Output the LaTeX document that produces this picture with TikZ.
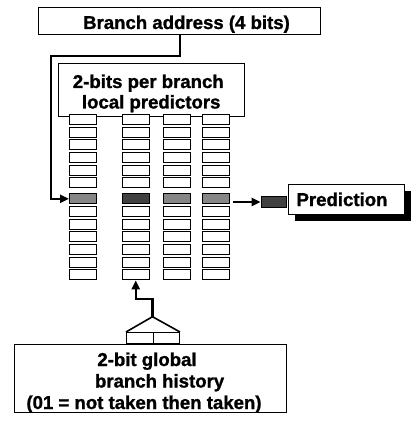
\documentclass[tikz,border=0pt]{standalone}
\usepackage{fontspec}
\setmainfont{Liberation Sans}[BoldFont={Liberation Sans Bold}]
\newfontfamily\lbold{Liberation Sans Bold}[FakeBold=1.2]
\usetikzlibrary{arrows.meta,calc}
\begin{document}
\begin{tikzpicture}[x=1pt,y=-1pt,
  box/.style={draw=black,line width=1pt,fill=white,inner sep=0pt},
  cell/.style={draw=black,line width=1pt,fill=white,inner sep=0pt,minimum width=26.5pt,minimum height=10pt,anchor=north west},
  txt/.style={font=\lbold\fontsize{18.6pt}{22pt}\selectfont,inner sep=0pt,anchor=base},
  wire/.style={line width=2.2pt},
  tip/.style={-{Triangle[length=9pt,width=8pt]}}]
\useasboundingbox (0,0) rectangle (412,425);
% branch address
\node[box,minimum width=282pt,minimum height=27pt] (addr) at (179,21.5) {};
\node[txt] (addrt) at (186.5,29) {Branch address (4 bits)};
% predictors title box
\node[box,minimum width=186pt,minimum height=52pt] (pred) at (151,90) {};
\node[txt] (pt1) at (148.3,88) {2-bits per branch};
\node[txt] (pt2) at (151.2,108.5) {local predictors};
% cells
\foreach \c/\x in {1/69,2/122,3/163,4/202}{
  \foreach \r/\y in {1/114,2/126.7,3/139.3,4/152,5/164.7,6/177.4,8/206,9/218.7,10/231.3,11/244,12/256.7,13/269.4}{
    \node[cell] (c\c-\r) at (\x,\y) {};
  }
}
\node[cell,fill=gray!95] (c1-7) at (69,193.3) {};
\node[cell,fill=black!75] (c2-7) at (122,193.3) {};
\node[cell,fill=gray!95] (c3-7) at (163,193.3) {};
\node[cell,fill=gray!95] (c4-7) at (202,193.3) {};
% address wire
\coordinate (a1) at (180,56);
\coordinate (a2) at (51,56);
\draw[wire,tip] (addr.south -| a1) -- (a1) -- (a2) -- (a2 |- c1-7.west) -- (c1-7.west);
% prediction
\node[draw=black,line width=0.8pt,fill=black!75,minimum width=25pt,minimum height=10.6pt,inner sep=0pt] (pbit) at (273.5,202) {};
\fill[black] (295.3,191.3) rectangle (411.3,221.3);
\node[box,minimum width=116pt,minimum height=30pt] (predbox) at (346.3,199.3) {};
\node[txt] (predt) at (342,206) {Prediction};
\coordinate (pa) at (233,202);
\draw[wire,tip] (pa) -- (pbit.west);
% global history
\node[box,minimum width=272pt,minimum height=68pt] (hist) at (150,378) {};
\node[txt] (h1) at (147,366) {2-bit global};
\node[txt] (h2) at (159.6,387.5) {branch history};
\node[txt] (h3) at (144,409) {(01 = not taken then taken)};
\node[draw=black,line width=1pt,fill=white,minimum width=26.5pt,minimum height=11pt,inner sep=0pt,anchor=north west] (g1) at (126,332) {};
\node[draw=black,line width=1pt,fill=white,minimum width=26.5pt,minimum height=11pt,inner sep=0pt,anchor=north west] (g2) at (152.5,332) {};
\coordinate (apex) at (152.5,316.7);
\draw[line width=1.6pt] (g1.north west) -- (apex) -- (g2.north east);
\coordinate (h4) at (152.5,299.3);
\draw[wire,tip] (apex) -- (h4) -- (h4 -| c2-13.south) -- (c2-13.south);
\end{tikzpicture}
\end{document}
